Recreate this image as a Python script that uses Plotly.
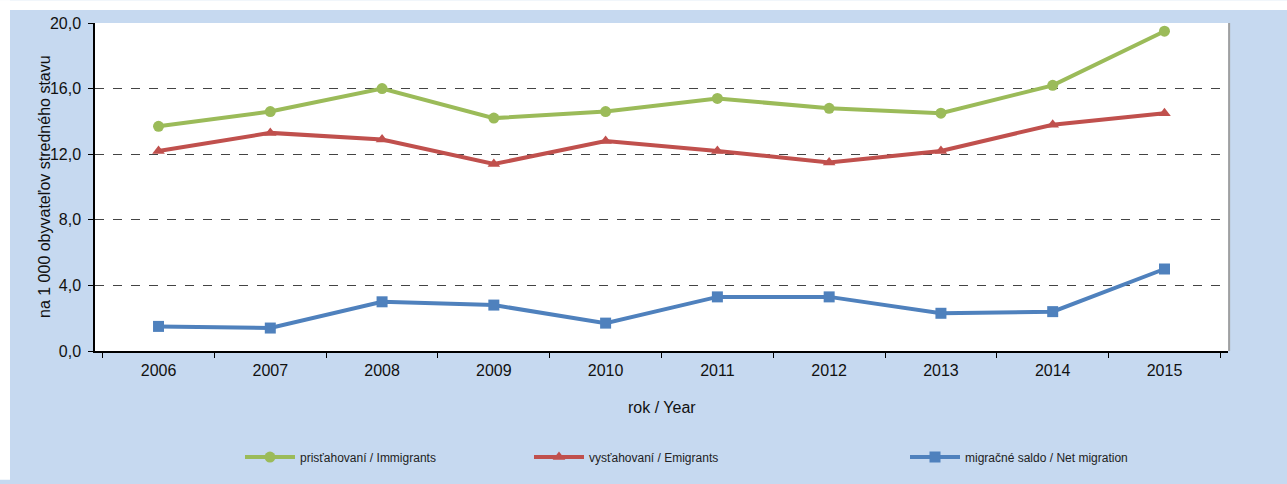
import plotly.graph_objects as go

years = ["2006", "2007", "2008", "2009", "2010", "2011", "2012", "2013", "2014", "2015"]
immigrants = [13.7, 14.6, 16.0, 14.2, 14.6, 15.4, 14.8, 14.5, 16.2, 19.5]
emigrants = [12.2, 13.3, 12.9, 11.4, 12.8, 12.2, 11.5, 12.2, 13.8, 14.5]
net_migration = [1.5, 1.4, 3.0, 2.8, 1.7, 3.3, 3.3, 2.3, 2.4, 5.0]

series = [
    ("prisťahovaní / Immigrants", immigrants, "#9BBB59", "circle", "legend"),
    ("vysťahovaní / Emigrants", emigrants, "#C0504D", "triangle-up", "legend2"),
    ("migračné saldo / Net migration", net_migration, "#4F81BD", "square", "legend3"),
]

BG = "#C6D9F0"
FONT = "Liberation Sans, Arial, sans-serif"
NARROW = "Liberation Sans Narrow, Arial Narrow, Liberation Sans, sans-serif"

fig = go.Figure()
for name, vals, color, symbol, leg in series:
    fig.add_trace(go.Scatter(
        x=years, y=vals, name=name, mode="lines+markers",
        line=dict(color=color, width=4),
        marker=dict(color=color, symbol=symbol, size=11),
        legend=leg, showlegend=True,
    ))

legend_common = dict(
    orientation="h", yanchor="middle", xanchor="left",
    bgcolor="rgba(0,0,0,0)", itemwidth=50, visible=True,
    font=dict(family=NARROW, size=12, color="#222222"),
)

W, H = 1287, 484
ml, mr, mt, mb = 95, 59, 23, 130
pw, ph = W - ml - mr, H - mt - mb


def px_x(px):
    return (px - ml) / pw


def px_y(py):
    return (H - mb - py) / ph


fig.update_layout(
    width=W, height=H,
    margin=dict(l=ml, r=mr, t=mt, b=mb, pad=0),
    paper_bgcolor=BG, plot_bgcolor="white",
    separators=", ",
    showlegend=True,
    font=dict(family=FONT, size=16, color="#111111"),
    legend=dict(legend_common, x=px_x(240), y=px_y(461)),
    legend2=dict(legend_common, x=px_x(529), y=px_y(461)),
    legend3=dict(legend_common, x=px_x(905), y=px_y(461)),
    xaxis=dict(
        showline=True, linecolor="black", linewidth=2,
        ticks="outside", ticklen=5, tickcolor="black", tickson="boundaries",
        showgrid=False, ticklabelstandoff=4,
        tickfont=dict(size=16),
    ),
    yaxis=dict(
        range=[0, 20], tickvals=[0, 4, 8, 12, 16, 20], tickformat=".1f",
        showline=True, linecolor="black", linewidth=1.5,
        ticks="outside", ticklen=5, tickcolor="black",
        showgrid=True, gridcolor="#444444", griddash="dash", gridwidth=1,
        zeroline=False, tickfont=dict(size=16), ticklabelstandoff=4,
    ),
    shapes=[
        # white margin strips around the coloured frame
        dict(type="rect", xref="paper", yref="paper", x0=px_x(0), x1=px_x(W),
             y0=px_y(0), y1=px_y(10), fillcolor="white", line_width=0, layer="above"),
        dict(type="rect", xref="paper", yref="paper", x0=px_x(0), x1=px_x(10),
             y0=px_y(0), y1=px_y(H), fillcolor="white", line_width=0, layer="above"),
        # right border of the plot area
        dict(type="line", xref="paper", yref="paper", x0=1.001, x1=1.001,
             y0=0, y1=1, line=dict(color="#A0A0A0", width=2), layer="above"),
    ],
    annotations=[
        dict(text="na 1 000 obyvateľov stredného stavu", textangle=-90,
             xref="paper", yref="paper", x=px_x(44), y=0.5,
             showarrow=False, font=dict(size=16), xanchor="center", yanchor="middle"),
        dict(text="rok / Year", xref="paper", yref="paper", x=0.5, y=px_y(411),
             showarrow=False, font=dict(size=16), xanchor="center", yanchor="middle"),
    ],
)

fig.write_html("out.html")
